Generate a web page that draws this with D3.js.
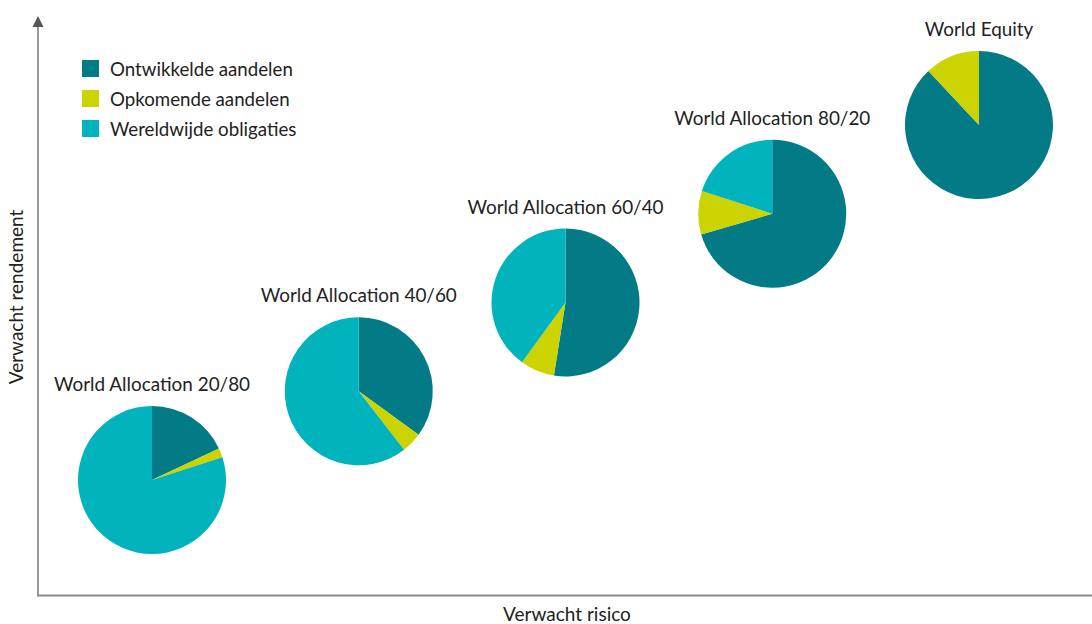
<!DOCTYPE html>
<html>
<head>
<meta charset="utf-8">
<script src="https://cdn.jsdelivr.net/npm/d3@7"></script>
<style>
  body { margin: 0; background: #fff; }
  svg { font-family: Lato, "Open Sans", sans-serif; }
</style>
</head>
<body>
<div id="chart"></div>
<script>
// portfolios, expected risk / return rank, and allocation shares (%)
const portfolios = ["World Allocation 20/80", "World Allocation 40/60", "World Allocation 60/40", "World Allocation 80/20", "World Equity"];
const risk = [1, 2, 3, 4, 5];
const ret = [1, 2, 3, 4, 5];
const developed = [18, 35, 52.5, 70.5, 88];
const emerging = [2, 4.5, 7.5, 9.5, 12];
const bonds = [80, 60.5, 40, 20, 0];
const categories = ["Ontwikkelde aandelen", "Opkomende aandelen", "Wereldwijde obligaties"];
const colors = ["#027b87", "#cbd300", "#00b3bd"];

const width = 1092, height = 624;
const radius = 74;

const svg = d3.select("#chart").append("svg")
  .attr("width", width)
  .attr("height", height);

const x = d3.scaleLinear().domain([1, 5]).range([152, 979]);
const y = d3.scaleLinear().domain([1, 5]).range([480, 125]);

// axes
svg.append("line")
  .attr("x1", 38).attr("x2", 38)
  .attr("y1", 596).attr("y2", 24)
  .attr("stroke", "#9a9a9a").attr("stroke-width", 2);
svg.append("path")
  .attr("d", "M38,16 L32.5,27 L43.5,27 Z")
  .attr("fill", "#555");
svg.append("line")
  .attr("x1", 37).attr("x2", width)
  .attr("y1", 595.5).attr("y2", 595.5)
  .attr("stroke", "#8a8a8a").attr("stroke-width", 2);

svg.append("text")
  .attr("x", 567).attr("y", 621)
  .attr("text-anchor", "middle")
  .style("font-size", "19px")
  .style("fill", "#222")
  .text("Verwacht risico");

svg.append("text")
  .attr("transform", "translate(23,297) rotate(-90)")
  .attr("text-anchor", "middle")
  .style("font-size", "19px")
  .style("fill", "#222")
  .text("Verwacht rendement");

// pies
const pie = d3.pie().sort(null).value(d => d);
const arc = d3.arc().innerRadius(0).outerRadius(radius);

const groups = svg.selectAll(".portfolio")
  .data(portfolios)
  .enter().append("g")
  .attr("class", "portfolio")
  .attr("transform", (d, i) => `translate(${x(risk[i])},${y(ret[i])})`);

groups.selectAll("path")
  .data((d, i) => pie([developed[i], emerging[i], bonds[i]]))
  .enter().append("path")
  .attr("d", arc)
  .attr("fill", (d, i) => colors[i]);

groups.append("text")
  .attr("y", -radius - 15)
  .attr("text-anchor", "middle")
  .style("font-size", "18.9px")
  .style("fill", "#222")
  .text(d => d);

// legend
const legend = svg.selectAll(".legend")
  .data(categories)
  .enter().append("g")
  .attr("class", "legend")
  .attr("transform", (d, i) => `translate(82,${60 + i * 30})`);

legend.append("rect")
  .attr("width", 17)
  .attr("height", 17)
  .attr("fill", (d, i) => colors[i]);

legend.append("text")
  .attr("x", 28)
  .attr("y", 16)
  .style("font-size", "18.7px")
  .style("fill", "#222")
  .text(d => d);
</script>
</body>
</html>
